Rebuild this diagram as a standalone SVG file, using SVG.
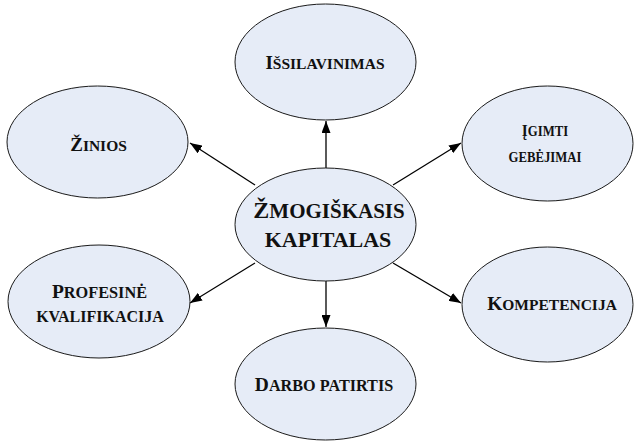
<svg xmlns="http://www.w3.org/2000/svg" width="635" height="442" viewBox="0 0 635 442">
<style>
.node ellipse{fill:#e6ecf7;stroke:#1a1a1a;stroke-width:1}
.t{font-family:"Liberation Serif","Times New Roman",serif;font-weight:bold;fill:#111;text-anchor:middle}
.b{font-size:19px}
.s{font-size:15.5px}
.conn line{stroke:#000;stroke-width:1.3;marker-end:url(#ah)}
</style>
<defs>
<marker id="ah" markerUnits="userSpaceOnUse" markerWidth="13" markerHeight="9" refX="12" refY="4.5" orient="auto">
<path d="M0,0 L12,4.5 L0,9 z" fill="#000"/>
</marker>
</defs>
<rect width="635" height="442" fill="#fff"/>
<g id="connectors" class="conn">
<line x1="326" y1="168" x2="326" y2="121"/>
<line x1="326" y1="281" x2="326" y2="327"/>
<line x1="255" y1="185" x2="190" y2="143"/>
<line x1="393" y1="185" x2="461" y2="143"/>
<line x1="255" y1="263" x2="190" y2="303"/>
<line x1="393" y1="263" x2="461" y2="303"/>
</g>
<g id="issilavinimas" class="node">
<ellipse cx="325.5" cy="62" rx="90.5" ry="58"/>
<text class="t" x="325" y="69"><tspan class="b">I</tspan><tspan class="s">ŠSILAVINIMAS</tspan></text>
</g>
<g id="zinios" class="node">
<ellipse cx="97.5" cy="142" rx="90.5" ry="56"/>
<text class="t" x="98.5" y="151"><tspan class="b">Ž</tspan><tspan class="s">INIOS</tspan></text>
</g>
<g id="igimti" class="node">
<ellipse cx="547.5" cy="143.5" rx="85.5" ry="57.5"/>
<text class="t" transform="translate(545,136) scale(0.88,1)"><tspan style="font-size:17.5px">Į</tspan><tspan style="font-size:14.5px">GIMTI</tspan></text>
<text class="t" transform="translate(545,162) scale(0.88,1)" style="font-size:14.5px">GEBĖJIMAI</text>
</g>
<g id="zmogiskasis" class="node">
<ellipse cx="325.5" cy="224.5" rx="90.5" ry="56.5"/>
<text class="t" x="329" y="218"><tspan style="font-size:24px">Ž</tspan><tspan style="font-size:21px">MOGIŠKASIS</tspan></text>
<text class="t" x="328" y="247" style="font-size:22px">KAPITALAS</text>
</g>
<g id="profesine" class="node">
<ellipse cx="99" cy="301.5" rx="91" ry="56.5"/>
<text class="t" x="99.5" y="298"><tspan style="font-size:19.5px">P</tspan><tspan style="font-size:16.3px">ROFESINĖ</tspan></text>
<text class="t" x="100" y="322" style="font-size:16px">KVALIFIKACIJA</text>
</g>
<g id="kompetencija" class="node">
<ellipse cx="547.5" cy="304.5" rx="85.5" ry="57.5"/>
<text class="t" x="552" y="310"><tspan style="font-size:19.5px">K</tspan><tspan class="s">OMPETENCIJA</tspan></text>
</g>
<g id="darbo" class="node">
<ellipse cx="325.5" cy="384" rx="90.5" ry="56"/>
<text class="t" x="324" y="391"><tspan style="font-size:19.5px">D</tspan><tspan style="font-size:16.2px">ARBO PATIRTIS</tspan></text>
</g>
</svg>
